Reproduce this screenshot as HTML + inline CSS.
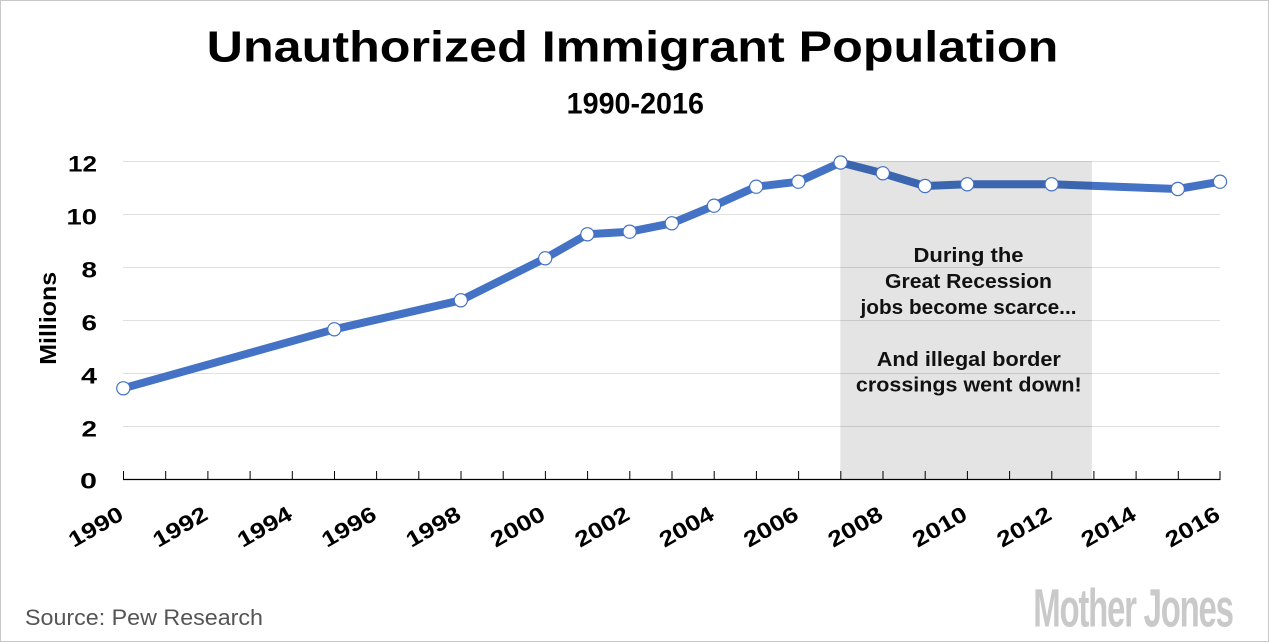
<!DOCTYPE html>
<html>
<head>
<meta charset="utf-8">
<style>
  html, body { margin: 0; padding: 0; background: #ffffff; width: 1270px; height: 643px; overflow: hidden; }
  svg { display: block; overflow: hidden; }
  text { font-family: "Liberation Sans", Arial, sans-serif; }
</style>
</head>
<body>
<svg width="1270" height="643" viewBox="0 0 1270 643" xmlns="http://www.w3.org/2000/svg">
  <rect x="0" y="0" width="1270" height="643" fill="#ffffff"/>
  <!-- border -->
  <rect x="0.5" y="0.5" width="1268" height="641" fill="none" stroke="#c8c8c8" stroke-width="1"/>

  <!-- Title -->
  <text x="632.5" y="61.7" text-anchor="middle" font-size="44" font-weight="bold" fill="#000" textLength="851.6" lengthAdjust="spacingAndGlyphs">Unauthorized Immigrant Population</text>
  <text x="635.3" y="113.3" text-anchor="middle" font-size="29.5" font-weight="bold" fill="#000" textLength="137.3" lengthAdjust="spacingAndGlyphs">1990-2016</text>

  <!-- gridlines -->
  <g stroke="#e0e0e0" stroke-width="1">
    <line x1="123" y1="161.5" x2="1220" y2="161.5"/>
    <line x1="123" y1="214.5" x2="1220" y2="214.5"/>
    <line x1="123" y1="267.5" x2="1220" y2="267.5"/>
    <line x1="123" y1="320.5" x2="1220" y2="320.5"/>
    <line x1="123" y1="373.5" x2="1220" y2="373.5"/>
    <line x1="123" y1="426.5" x2="1220" y2="426.5"/>
  </g>

  <!-- y labels -->
  <g font-size="22" font-weight="bold" fill="#000" text-anchor="end">
    <text x="97" y="171.7" textLength="29" lengthAdjust="spacingAndGlyphs">12</text>
    <text x="97" y="224.7" textLength="30.5" lengthAdjust="spacingAndGlyphs">10</text>
    <text x="97" y="277.7" textLength="15.5" lengthAdjust="spacingAndGlyphs">8</text>
    <text x="97" y="330.7" textLength="15.5" lengthAdjust="spacingAndGlyphs">6</text>
    <text x="97" y="383.7" textLength="16" lengthAdjust="spacingAndGlyphs">4</text>
    <text x="97" y="436.7" textLength="15.5" lengthAdjust="spacingAndGlyphs">2</text>
    <text x="97" y="488.5" textLength="17" lengthAdjust="spacingAndGlyphs">0</text>
  </g>
  <text transform="translate(56,318.3) rotate(-90)" x="0" y="0" text-anchor="middle" font-size="23" font-weight="bold" fill="#000" textLength="93" lengthAdjust="spacingAndGlyphs">Millions</text>

  <!-- data line -->
  <polyline fill="none" stroke="#4472c4" stroke-width="8" stroke-linejoin="round" stroke-linecap="round"
    points="123.3,388.3 334.3,329.3 460.8,300.3 545.2,258.3 587.4,234.3 629.6,231.7 671.8,223.3 714.0,205.7 756.2,186.7 798.4,181.7 840.6,162.5 882.8,173.3 925.0,186 967.2,184.3 1051.6,184.3 1177.8,189 1220,181.7"/>

  <!-- recession shading (semi-transparent overlay) -->
  <rect x="840.3" y="161" width="251.6" height="318" fill="#000000" fill-opacity="0.105"/>

  <!-- markers -->
  <g fill="#ffffff" stroke="#4472c4" stroke-width="1.2">
    <circle cx="123.3" cy="388.3" r="6.6"/>
    <circle cx="334.3" cy="329.3" r="6.6"/>
    <circle cx="460.8" cy="300.3" r="6.6"/>
    <circle cx="545.2" cy="258.3" r="6.6"/>
    <circle cx="587.4" cy="234.3" r="6.6"/>
    <circle cx="629.6" cy="231.7" r="6.6"/>
    <circle cx="671.8" cy="223.3" r="6.6"/>
    <circle cx="714.0" cy="205.7" r="6.6"/>
    <circle cx="756.2" cy="186.7" r="6.6"/>
    <circle cx="798.4" cy="181.7" r="6.6"/>
    <circle cx="840.6" cy="162.5" r="6.6"/>
    <circle cx="882.8" cy="173.3" r="6.6"/>
    <circle cx="925.0" cy="186" r="6.6"/>
    <circle cx="967.2" cy="184.3" r="6.6"/>
    <circle cx="1051.6" cy="184.3" r="6.6"/>
    <circle cx="1177.8" cy="189" r="6.6"/>
    <circle cx="1220" cy="181.7" r="6.6"/>
  </g>

  <!-- annotation -->
  <g font-size="20.5" font-weight="bold" fill="#111" text-anchor="middle">
    <text x="968.5" y="262" textLength="110" lengthAdjust="spacingAndGlyphs">During the</text>
    <text x="968.5" y="288" textLength="167" lengthAdjust="spacingAndGlyphs">Great Recession</text>
    <text x="968.5" y="314" textLength="216" lengthAdjust="spacingAndGlyphs">jobs become scarce...</text>
    <text x="968.8" y="366" textLength="184" lengthAdjust="spacingAndGlyphs">And illegal border</text>
    <text x="968.8" y="391.5" textLength="225.7" lengthAdjust="spacingAndGlyphs">crossings went down!</text>
  </g>

  <!-- x axis -->
  <line x1="123" y1="479.5" x2="1220.5" y2="479.5" stroke="#000" stroke-width="1.3"/>
  <g stroke="#000" stroke-width="1">
    <line x1="123.5" y1="471" x2="123.5" y2="479"/>
    <line x1="165.7" y1="471" x2="165.7" y2="479"/>
    <line x1="207.9" y1="471" x2="207.9" y2="479"/>
    <line x1="250.1" y1="471" x2="250.1" y2="479"/>
    <line x1="292.3" y1="471" x2="292.3" y2="479"/>
    <line x1="334.5" y1="471" x2="334.5" y2="479"/>
    <line x1="376.6" y1="471" x2="376.6" y2="479"/>
    <line x1="418.8" y1="471" x2="418.8" y2="479"/>
    <line x1="461.0" y1="471" x2="461.0" y2="479"/>
    <line x1="503.2" y1="471" x2="503.2" y2="479"/>
    <line x1="545.4" y1="471" x2="545.4" y2="479"/>
    <line x1="587.6" y1="471" x2="587.6" y2="479"/>
    <line x1="629.8" y1="471" x2="629.8" y2="479"/>
    <line x1="672.0" y1="471" x2="672.0" y2="479"/>
    <line x1="714.2" y1="471" x2="714.2" y2="479"/>
    <line x1="756.4" y1="471" x2="756.4" y2="479"/>
    <line x1="798.6" y1="471" x2="798.6" y2="479"/>
    <line x1="840.8" y1="471" x2="840.8" y2="479"/>
    <line x1="883.0" y1="471" x2="883.0" y2="479"/>
    <line x1="925.2" y1="471" x2="925.2" y2="479"/>
    <line x1="967.4" y1="471" x2="967.4" y2="479"/>
    <line x1="1009.6" y1="471" x2="1009.6" y2="479"/>
    <line x1="1051.8" y1="471" x2="1051.8" y2="479"/>
    <line x1="1093.9" y1="471" x2="1093.9" y2="479"/>
    <line x1="1136.1" y1="471" x2="1136.1" y2="479"/>
    <line x1="1178.3" y1="471" x2="1178.3" y2="479"/>
    <line x1="1220.0" y1="471" x2="1220.0" y2="479"/>
  </g>

  <!-- x labels -->
  <g font-size="22" font-weight="bold" fill="#000" text-anchor="end">
    <text transform="translate(125,518.5) rotate(-30)" textLength="59" lengthAdjust="spacingAndGlyphs">1990</text>
    <text transform="translate(209.4,518.5) rotate(-30)" textLength="59" lengthAdjust="spacingAndGlyphs">1992</text>
    <text transform="translate(293.8,518.5) rotate(-30)" textLength="59" lengthAdjust="spacingAndGlyphs">1994</text>
    <text transform="translate(378.1,518.5) rotate(-30)" textLength="59" lengthAdjust="spacingAndGlyphs">1996</text>
    <text transform="translate(462.5,518.5) rotate(-30)" textLength="59" lengthAdjust="spacingAndGlyphs">1998</text>
    <text transform="translate(546.9,518.5) rotate(-30)" textLength="59" lengthAdjust="spacingAndGlyphs">2000</text>
    <text transform="translate(631.3,518.5) rotate(-30)" textLength="59" lengthAdjust="spacingAndGlyphs">2002</text>
    <text transform="translate(715.7,518.5) rotate(-30)" textLength="59" lengthAdjust="spacingAndGlyphs">2004</text>
    <text transform="translate(800.1,518.5) rotate(-30)" textLength="59" lengthAdjust="spacingAndGlyphs">2006</text>
    <text transform="translate(884.5,518.5) rotate(-30)" textLength="59" lengthAdjust="spacingAndGlyphs">2008</text>
    <text transform="translate(968.9,518.5) rotate(-30)" textLength="59" lengthAdjust="spacingAndGlyphs">2010</text>
    <text transform="translate(1053.3,518.5) rotate(-30)" textLength="59" lengthAdjust="spacingAndGlyphs">2012</text>
    <text transform="translate(1137.6,518.5) rotate(-30)" textLength="59" lengthAdjust="spacingAndGlyphs">2014</text>
    <text transform="translate(1221.7,518.5) rotate(-30)" textLength="59" lengthAdjust="spacingAndGlyphs">2016</text>
  </g>

  <!-- source -->
  <text x="25" y="625" font-family="'DejaVu Sans', 'Liberation Sans', sans-serif" font-size="22" fill="#555555" textLength="238" lengthAdjust="spacingAndGlyphs">Source: Pew Research</text>

  <!-- logo -->
  <text x="1033.3" y="626.7" font-family="'Liberation Sans Narrow', 'Liberation Sans', sans-serif" font-size="54" font-weight="bold" fill="#c9c9c9" textLength="199.4" lengthAdjust="spacingAndGlyphs" letter-spacing="-2">Mother Jones</text>
</svg>
</body>
</html>
